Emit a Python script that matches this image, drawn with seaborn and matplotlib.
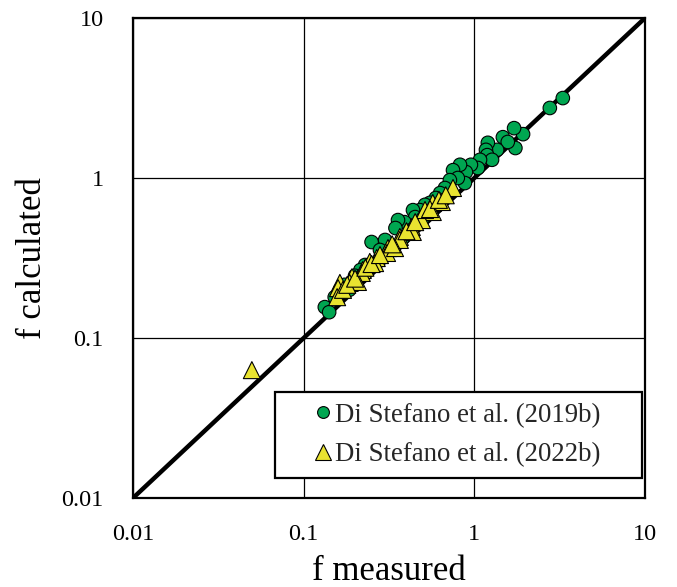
import numpy as np
import pandas as pd
import matplotlib
matplotlib.use("Agg")
import matplotlib.pyplot as plt
from matplotlib.patches import Rectangle
import seaborn as sns

# Friction factor: measured vs calculated, Di Stefano et al. (2019b)
f_meas_2019 = [3.30, 2.77, 1.93, 1.71, 1.74, 1.47, 1.57, 1.36, 1.20, 1.17,
               1.19, 1.27, 1.08, 1.05, 0.955, 0.893, 0.824, 0.75, 0.88, 0.80,
               0.719, 0.673, 0.63, 0.595, 0.55, 0.514, 0.48, 0.437, 0.45, 0.39,
               0.357, 0.345, 0.30, 0.25, 0.28, 0.229, 0.215, 0.20, 0.174, 0.163,
               0.152, 0.133, 0.141, 0.185, 0.22, 0.26, 0.32, 0.38, 0.42, 0.50]
f_calc_2019 = [3.16, 2.74, 1.88, 2.05, 1.54, 1.80, 1.68, 1.50, 1.66, 1.50,
               1.39, 1.30, 1.30, 1.155, 1.21, 1.09, 1.21, 1.12, 0.93, 1.00,
               0.97, 0.866, 0.805, 0.75, 0.70, 0.68, 0.63, 0.63, 0.57, 0.53,
               0.546, 0.487, 0.41, 0.398, 0.355, 0.286, 0.266, 0.245, 0.215, 0.20,
               0.18, 0.156, 0.145, 0.20, 0.245, 0.29, 0.35, 0.42, 0.47, 0.56]

# Di Stefano et al. (2022b)
f_meas_2022 = [0.750, 0.571, 0.645, 0.571, 0.493, 0.430, 0.436, 0.366, 0.366,
               0.312, 0.308, 0.268, 0.262, 0.222, 0.219, 0.192, 0.186, 0.163,
               0.159, 0.157, 0.244, 0.208, 0.514, 0.343, 0.0497,
               0.17, 0.18, 0.20, 0.23, 0.25, 0.28, 0.33, 0.40, 0.45, 0.55,
               0.62, 0.68]
f_calc_2022 = [0.866, 0.698, 0.708, 0.613, 0.546, 0.494, 0.460, 0.428, 0.410,
               0.365, 0.340, 0.316, 0.294, 0.266, 0.255, 0.240, 0.221, 0.221,
               0.205, 0.180, 0.299, 0.224, 0.631, 0.365, 0.063,
               0.20, 0.215, 0.235, 0.275, 0.29, 0.33, 0.385, 0.465, 0.53, 0.64,
               0.73, 0.78]

label_2019 = "Di Stefano et al. (2019b)"
label_2022 = "Di Stefano et al. (2022b)"
decade_ticks = [0.01, 0.1, 1, 10]
tick_labels = ["0.01", "0.1", "1", "10"]

df = pd.concat([
    pd.DataFrame({"f measured": f_meas_2019, "f calculated": f_calc_2019, "source": label_2019}),
    pd.DataFrame({"f measured": f_meas_2022, "f calculated": f_calc_2022, "source": label_2022}),
], ignore_index=True)

sns.set_theme(style="white")
plt.rcParams["font.family"] = ["Liberation Serif", "DejaVu Serif"]

fig = plt.figure(figsize=(6.77, 5.87), dpi=100)
ax = fig.add_axes([0.1965, 0.1516, 0.7562, 0.8177])

ax.set_xscale("log")
ax.set_yscale("log")
ax.set_xlim(0.01, 10)
ax.set_ylim(0.01, 10)

ax.grid(True, which="major", color="black", linewidth=0.9)
ax.set_axisbelow(True)

# 1:1 line
ax.plot([0.01, 10], [0.01, 10], color="black", linewidth=3.2, zorder=2,
        solid_capstyle="butt")

sns.scatterplot(data=df, x="f measured", y="f calculated", hue="source",
                style="source", size="source",
                palette={label_2019: "#00A651", label_2022: "#E9E330"},
                markers={label_2019: "o", label_2022: "^"},
                sizes={label_2019: 95, label_2022: 150},
                edgecolor="black", linewidth=0.8, ax=ax, zorder=3)

ax.set_xticks(decade_ticks)
ax.set_xticklabels(tick_labels)
ax.set_yticks(decade_ticks)
ax.set_yticklabels(tick_labels)
ax.minorticks_off()
ax.tick_params(axis="x", length=0, labelsize=17.5, colors="black", pad=19)
ax.tick_params(axis="y", length=0, labelsize=17.5, colors="black", pad=21)

for sp in ax.spines.values():
    sp.set_color("black")
    sp.set_linewidth(1.6)

ax.set_xlabel("f measured", fontsize=25, color="black", labelpad=7)
ax.set_ylabel("f calculated", fontsize=25, color="black", labelpad=9)

# legend frame
x0, x1 = (275 - 133) / 512, (642 - 133) / 512
y0, y1 = (498 - 478) / 480, (498 - 392) / 480
ax.add_patch(Rectangle((x0, y0), x1 - x0, y1 - y0, transform=ax.transAxes,
                       facecolor="white", edgecolor="black", linewidth=1.6,
                       zorder=5))

handles, labels = ax.get_legend_handles_labels()
handles[0].set_markersize(8.5)
handles[1].set_markersize(11)
leg = ax.legend(handles, labels, loc="center",
                bbox_to_anchor=((x0 + x1) / 2, (y0 + y1) / 2), fontsize=19.3,
                frameon=False, handletextpad=0.22, handlelength=0.5,
                borderpad=0.0, labelspacing=0.55, borderaxespad=0.0)
leg.set_zorder(6)

fig.savefig("out.png", dpi=100)
